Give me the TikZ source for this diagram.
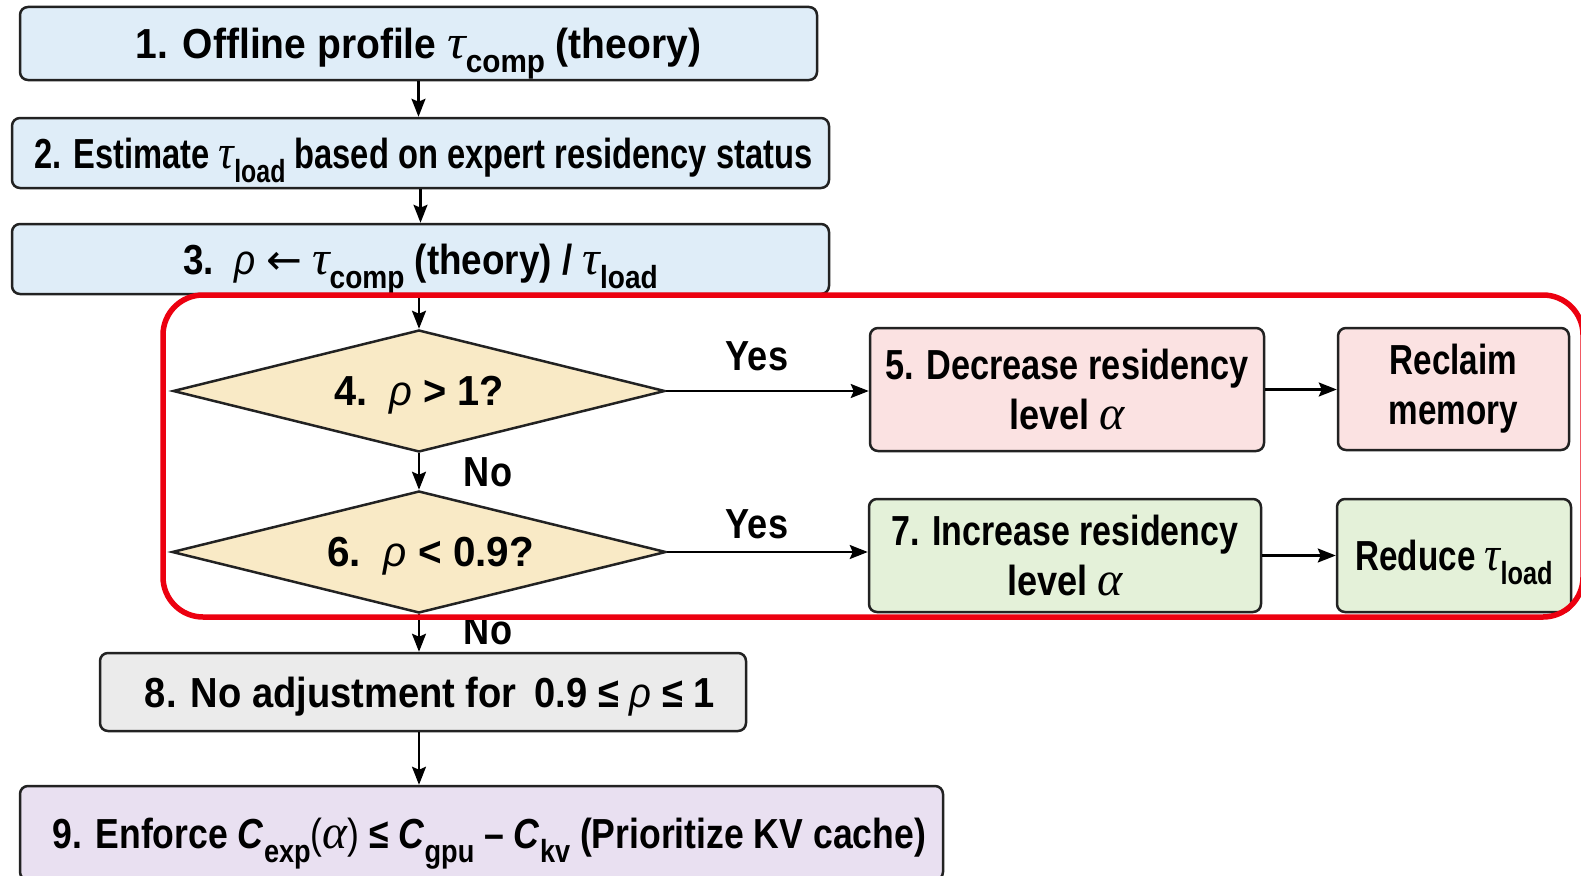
\documentclass[tikz,border=0pt]{standalone}
\usepackage{fontspec}
\usepackage{graphicx}
\setmainfont{Liberation Sans}[FakeStretch=0.86]
\newfontfamily\greekserif{Liberation Serif}
\newfontfamily\symfont{DejaVu Sans}
\usetikzlibrary{shapes.geometric,arrows.meta}

\definecolor{bluefill}{HTML}{DFEDF8}
\definecolor{sandfill}{HTML}{F9EAC6}
\definecolor{pinkfill}{HTML}{FBE2E2}
\definecolor{greenfill}{HTML}{E4F1D9}
\definecolor{grayfill}{HTML}{EBEBEB}
\definecolor{lilacfill}{HTML}{E9E0F1}
\definecolor{framered}{HTML}{EC0010}
\definecolor{edge}{HTML}{222222}

\newcommand{\mainsz}{\fontsize{42}{50}\selectfont\bfseries}
% italic Greek symbols (tau, alpha in serif, rho in sans)
\newcommand{\gt}[1]{{\greekserif\mdseries\itshape\fontsize{48}{50}\selectfont #1}}
\newcommand{\gk}[1]{{\mdseries\itshape #1}}
% subscripts that do not change the line box
\newcommand{\sub}[1]{\raisebox{-0.34em}[0pt][0pt]{\fontsize{32}{32}\selectfont #1}}
% horizontal scaling of a single line
\newcommand{\hs}[2]{\scalebox{#1}[1]{#2}}
\newcommand{\larrow}{{\symfont\mdseries ←}}

\begin{document}
\begin{tikzpicture}[x=1pt,y=-1pt,
  box/.style={draw=edge, line width=2.5pt, rounded corners=8pt, inner sep=0pt,
    align=center, font=\mainsz},
  oneline/.style={text height=34pt, text depth=4pt},
  decision/.style={draw=edge, line width=2.5pt, diamond, aspect=4.03, inner sep=0pt,
    fill=sandfill, font=\mainsz, text height=33pt, text depth=5pt},
  con/.style={draw=black, line width=2.2pt, -{Stealth[length=18pt,width=14pt,inset=3pt]}},
  tag/.style={font=\mainsz, inner sep=0pt}]
\useasboundingbox (0,0) rectangle (1581,875);
\clip (0,0) rectangle (1581,875);
\fill[white] (0,0) rectangle (1581,875);

% main column
\node[box, oneline, fill=bluefill, minimum width=797pt, minimum height=73pt] (b1) at (418.5,43.5)
  {\hs{1.08}{1. Offline profile \gt{τ}\sub{comp} (theory)}};
\node[box, oneline, fill=bluefill, minimum width=817pt, minimum height=70pt] (b2) at (420.5,153)
  {\hs{0.905}{\hspace{6pt}2. Estimate \gt{τ}\sub{load} based on expert residency status}};
\node[box, oneline, fill=bluefill, minimum width=817pt, minimum height=70pt] (b3) at (420.5,259)
  {\hs{1.02}{3.\, \gk{ρ} \larrow\ \gt{τ}\sub{comp} (theory) / \gt{τ}\sub{load}}};

% decisions
\node[decision, minimum width=492pt, minimum height=122pt] (d4) at (419,391)
  {\hs{1.1}{4.\, \gk{ρ} > 1?}};
\node[decision, minimum width=494pt, minimum height=122pt] (d6) at (419,552)
  {\hs{1.12}{\hspace{0.5em}6.\, \gk{ρ} < 0.9?}};

% actions on the right
\node[box, fill=pinkfill, minimum width=394pt, minimum height=123pt] (b5) at (1067,389.5)
  {\hs{0.95}{5. Decrease residency}\\level \gt{α}};
\node[box, fill=pinkfill, minimum width=231pt, minimum height=122pt] (rm) at (1453.5,389)
  {\hs{0.92}{Reclaim}\\\hs{0.92}{memory}};
\node[box, fill=greenfill, minimum width=392pt, minimum height=113pt] (b7) at (1065,555.5)
  {\hs{0.94}{7. Increase residency}\\level \gt{α}};
\node[box, oneline, fill=greenfill, minimum width=234pt, minimum height=113pt] (rt) at (1454,555.5)
  {\hs{0.92}{Reduce \gt{τ}\sub{load}}};

% lower column
\node[box, oneline, fill=grayfill, minimum width=646pt, minimum height=78pt] (b8) at (423,692)
  {\hs{1.055}{\hspace{13pt}8. No adjustment for\, 0.9 ≤ \gk{ρ} ≤ 1}};
\node[box, oneline, fill=lilacfill, minimum width=923pt, minimum height=94pt] (b9) at (481.5,833)
  {\hs{0.985}{\hspace{16pt}9. Enforce \textit{C}\sub{exp}{\mdseries(}\gt{α}{\mdseries)} ≤ \textit{C}\sub{gpu} – \textit{C}\sub{kv} (Prioritize KV cache)}};

% connectors
\draw[con] (b1.south) -- (b1.south |- b2.north);
\draw[con] (b2.south) -- (b2.south |- b3.north);
\draw[con] (d4.north |- b3.south) -- (d4.north);
\draw[con] (d4.south) -- (d6.north);
\draw[con] (d6.south) -- (d6.south |- b8.north);
\draw[con] (d6.south |- b8.south) -- (d6.south |- b9.north);
\draw[con] (d4.east) -- (d4.east -| b5.west);
\draw[con] (d6.east) -- (d6.east -| b7.west);
\draw[con] (b5.east) -- (b5.east -| rm.west);
\draw[con] (b7.east) -- (b7.east -| rt.west);

% branch labels
\node[tag] (y4) at (757,356) {Yes};
\node[tag] (y6) at (757,524) {Yes};
\node[tag] (n4) at (488,472) {No};
\node[tag] (n6) at (488,630) {No};

% highlighted adjustment region
\draw[framered, line width=5.5pt, rounded corners=40pt] (163,295) rectangle (1583,617);
\end{tikzpicture}
\end{document}
